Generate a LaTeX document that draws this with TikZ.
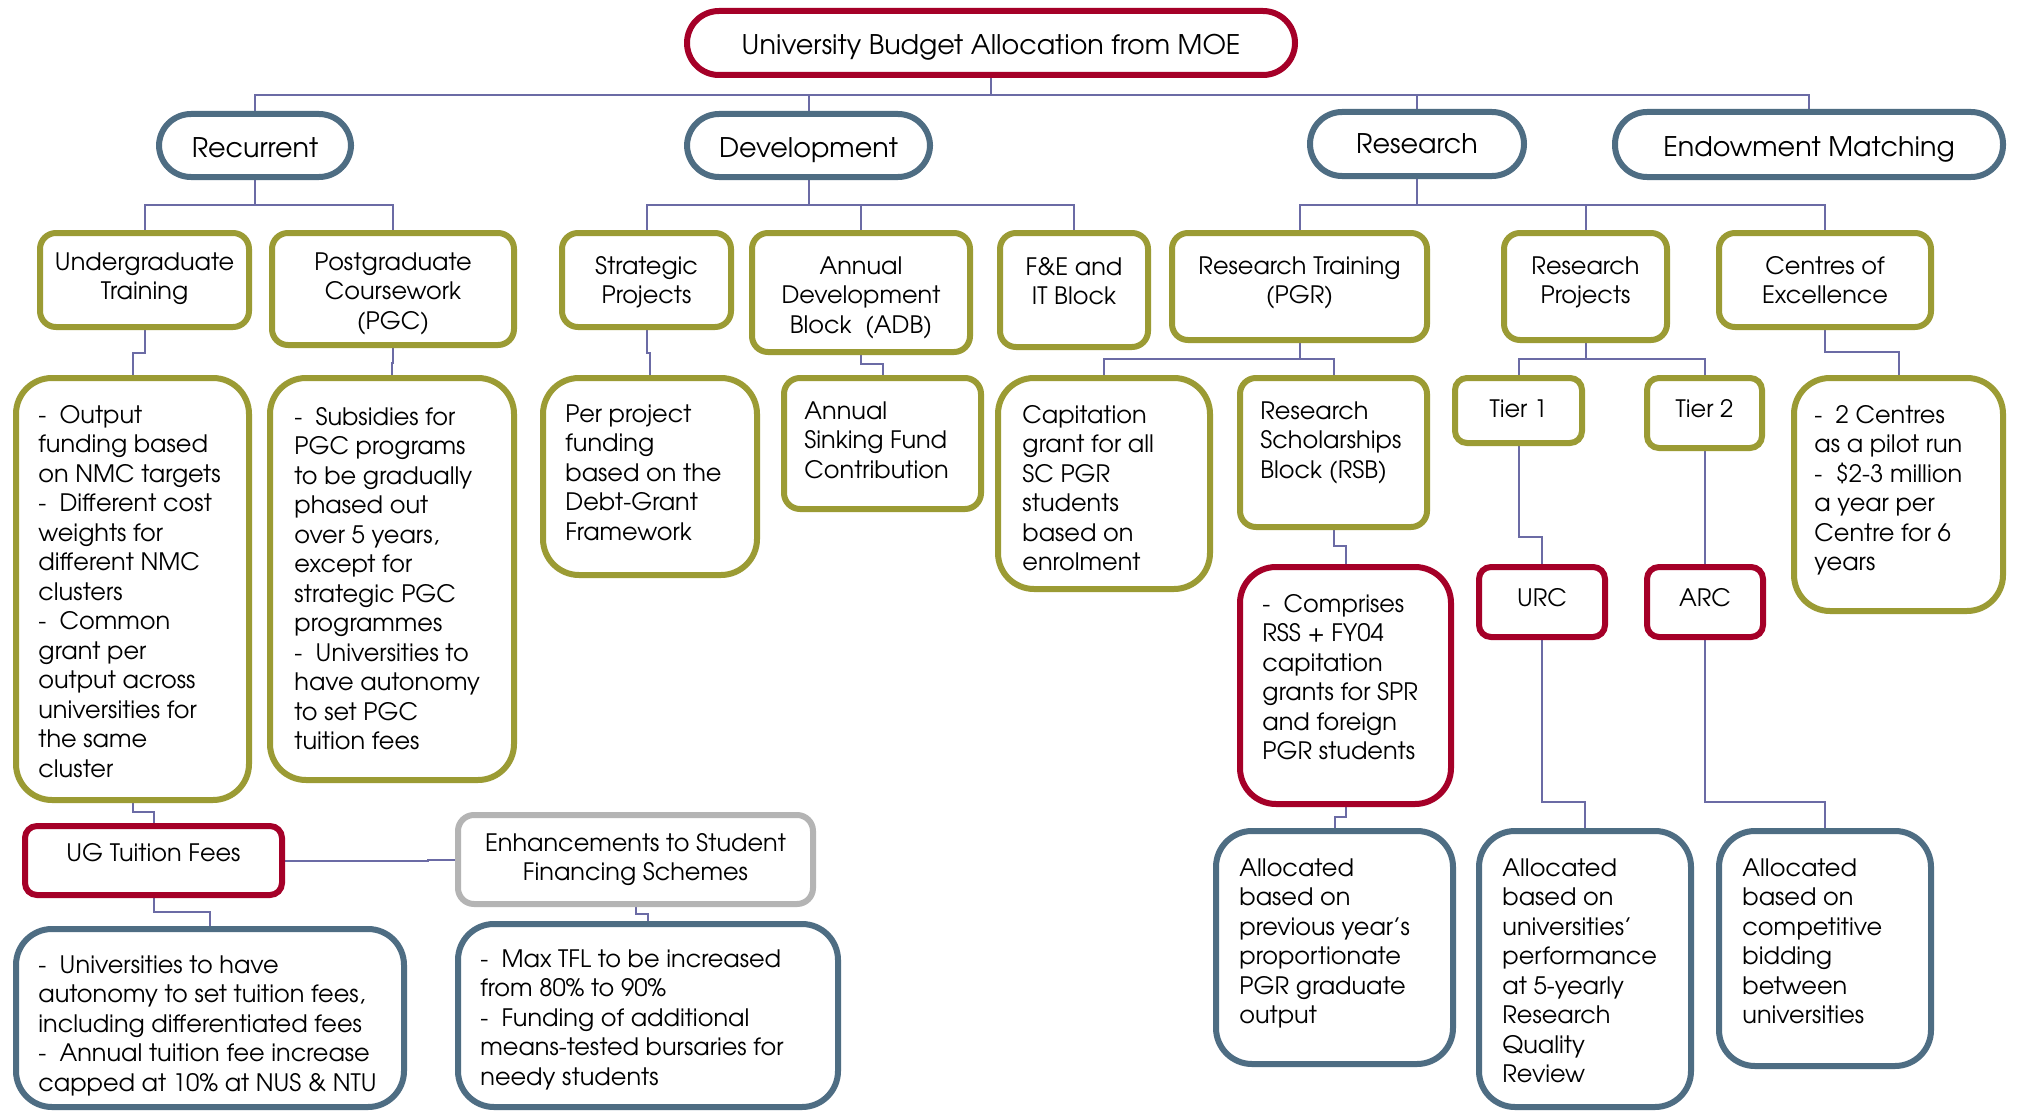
\documentclass[tikz,border=0pt]{standalone}
\usepackage{fontspec}
\setmainfont{TeX Gyre Adventor}
\usetikzlibrary{backgrounds,calc}
\definecolor{cred}{RGB}{165,0,40}
\definecolor{colive}{RGB}{155,155,52}
\definecolor{cslate}{RGB}{78,109,131}
\definecolor{cgray}{RGB}{180,180,180}
\definecolor{cline}{RGB}{107,107,165}
\newcommand\mkbox[7]{%
  \pgfmathsetmacro\mbcx{(#3+#5)/2}%
  \pgfmathsetmacro\mbcy{(#4+#6)/2}%
  \pgfmathsetmacro\mbww{(#5-#3-6)*0.5}%
  \pgfmathsetmacro\mbhh{(#6-#4-6)*0.5}%
  \node[#2, minimum width=\mbww pt, minimum height=\mbhh pt] (#1) at (\mbcx,\mbcy) {#7};}
\tikzset{
  bx/.style={draw, line width=3pt, fill=white, inner sep=0pt, align=center},
  redb/.style={bx, draw=cred},
  oliveb/.style={bx, draw=colive},
  slateb/.style={bx, draw=cslate},
  grayb/.style={bx, draw=cgray},
  pill/.style={rounded corners=16pt},
  rsm/.style={rounded corners=6pt},
  rmd/.style={rounded corners=8pt},
  rlg/.style={rounded corners=18pt},
  conn/.style={draw=cline, line width=1pt},
  bodyt/.style={anchor=north west, align=left, inner sep=0pt, font=\fontsize{12}{14.75}\selectfont},
  ttlt/.style={anchor=north, align=center, inner sep=0pt, font=\fontsize{12}{14.75}\selectfont},
  topt/.style={anchor=base, inner sep=0pt, font=\fontsize{13.5}{16}\selectfont},
}
\newcommand\dsh{-\hspace{0.55em}}
\begin{document}
\begin{tikzpicture}[x=0.5pt,y=-0.5pt]
\useasboundingbox (0,0) rectangle (2018,1113);
% top level
\mkbox{root}{redb,pill}{684}{8}{1298}{78}{}
\mkbox{rec}{slateb,pill}{156}{111}{354}{180}{}
\mkbox{dev}{slateb,pill}{684}{111}{933}{180}{}
\mkbox{res}{slateb,pill}{1307}{109}{1527}{179}{}
\mkbox{end}{slateb,pill}{1612}{109}{2006}{180}{}
% level 2
\mkbox{ug}{oliveb,rmd}{37}{230}{252}{330}{}
\mkbox{pgc}{oliveb,rmd}{269}{230}{517}{348}{}
\mkbox{sp}{oliveb,rmd}{559}{230}{734}{330}{}
\mkbox{adb}{oliveb,rmd}{749}{230}{973}{355}{}
\mkbox{fe}{oliveb,rmd}{997}{230}{1151}{350}{}
\mkbox{rt}{oliveb,rmd}{1169}{230}{1430}{343}{}
\mkbox{rp}{oliveb,rmd}{1501}{230}{1670}{343}{}
\mkbox{ce}{oliveb,rmd}{1716}{230}{1934}{330}{}
% level 3
\mkbox{out}{oliveb,rlg}{13}{375}{252}{803}{}
\mkbox{sub}{oliveb,rlg}{267}{375}{517}{783}{}
\mkbox{pp}{oliveb,rlg}{540}{375}{760}{578}{}
\mkbox{asf}{oliveb,rmd}{781}{375}{984}{512}{}
\mkbox{cap}{oliveb,rlg}{995}{375}{1213}{592}{}
\mkbox{rsb}{oliveb,rmd}{1237}{375}{1430}{530}{}
\mkbox{ta}{oliveb,rsm}{1452}{375}{1585}{446}{}
\mkbox{tb}{oliveb,rsm}{1644}{375}{1765}{451}{}
\mkbox{cen}{oliveb,rlg}{1791}{375}{2006}{614}{}
% level 4
\mkbox{com}{redb,rlg}{1237}{564}{1454}{807}{}
\mkbox{urc}{redb,rsm}{1476}{564}{1608}{640}{}
\mkbox{arc}{redb,rsm}{1644}{564}{1766}{640}{}
\mkbox{aa}{slateb,rlg}{1213}{828}{1456}{1067}{}
\mkbox{ab}{slateb,rlg}{1476}{828}{1694}{1110}{}
\mkbox{ac}{slateb,rlg}{1716}{828}{1934}{1069}{}
% bottom left
\mkbox{ugt}{redb,rsm}{22}{823}{285}{898}{}
\mkbox{enh}{grayb,rmd,font=\fontsize{12}{14.75}\selectfont}{455}{812}{816}{907}{Enhancements to Student\\Financing Schemes}
\mkbox{uni}{slateb,rlg}{13}{926}{407}{1110}{}
\mkbox{tfl}{slateb,rlg}{455}{921}{841}{1110}{}

% background and connectors
\begin{scope}[on background layer]
\fill[white] (0,0) rectangle (2018,1113);
\draw[conn] (root.south) -- (root.south |- 0,95);
\draw[conn] (rec.north) -- (rec.north |- 0,95) -- (end.north |- 0,95) -- (end.north);
\draw[conn] (dev.north) -- (dev.north |- 0,95);
\draw[conn] (res.north) -- (res.north |- 0,95);
\draw[conn] (rec.south) -- (rec.south |- 0,205);
\draw[conn] (ug.north) -- (ug.north |- 0,205) -- (pgc.north |- 0,205) -- (pgc.north);
\draw[conn] (dev.south) -- (dev.south |- 0,205);
\draw[conn] (sp.north) -- (sp.north |- 0,205) -- (fe.north |- 0,205) -- (fe.north);
\draw[conn] (adb.north) -- (adb.north |- 0,205);
\draw[conn] (res.south) -- (res.south |- 0,205);
\draw[conn] (rt.north) -- (rt.north |- 0,205) -- (ce.north |- 0,205) -- (ce.north);
\draw[conn] (rp.north) -- (rp.north |- 0,205);
\draw[conn] (ug.south) -- (ug.south |- 0,353) -| (out.north);
\draw[conn] (pgc.south) -- (pgc.south |- 0,363) -| (sub.north);
\draw[conn] (sp.south) -- (sp.south |- 0,353) -| (pp.north);
\draw[conn] (adb.south) -- (adb.south |- 0,364) -| (asf.north);
\draw[conn] (rt.south) -- (rt.south |- 0,359);
\draw[conn] (cap.north) -- (cap.north |- 0,359) -- (rsb.north |- 0,359) -- (rsb.north);
\draw[conn] (rp.south) -- (rp.south |- 0,359);
\draw[conn] (ta.north) -- (ta.north |- 0,359) -- (tb.north |- 0,359) -- (tb.north);
\draw[conn] (ce.south) -- (ce.south |- 0,352) -| (cen.north);
\draw[conn] (rsb.south) -- (rsb.south |- 0,546) -| (com.north);
\draw[conn] (ta.south) -- (ta.south |- 0,537) -| (urc.north);
\draw[conn] (tb.south) -- (tb.south |- 0,555) -| (arc.north);
\draw[conn] (com.south) -- (com.south |- 0,817) -| (aa.north);
\draw[conn] (urc.south) -- (urc.south |- 0,802) -| (ab.north);
\draw[conn] (arc.south) -- (arc.south |- 0,802) -| (ac.north);
\draw[conn] (out.south) -- (out.south |- 0,812) -| (ugt.north);
\draw[conn] (ugt.south) -- (ugt.south |- 0,912) -| (uni.north);
\draw[conn] (enh.south) -- (enh.south |- 0,914) -| (tfl.north);
\draw[conn] (ugt.east) -- ++(143,0) |- (enh.west);
\end{scope}

% top titles
\node[topt] (root-t) at ([shift={(0,12)}]root.center) {University Budget Allocation from MOE};
\node[topt] (rec-t) at ([shift={(0,12)}]rec.center) {Recurrent};
\node[topt] (dev-t) at ([shift={(0,12)}]dev.center) {Development};
\node[topt] (res-t) at ([shift={(0,10)}]res.center) {Research};
\node[topt] (end-t) at ([shift={(0,12)}]end.center) {Endowment Matching};

% level 2 titles
\node[ttlt] (ug-t) at ([shift={(0,22)}]ug.north) {Undergraduate\\Training};
\node[ttlt] (pgc-t) at ([shift={(0,22)}]pgc.north) {Postgraduate\\Coursework\\(PGC)};
\node[ttlt] (sp-t) at ([shift={(0,26)}]sp.north) {Strategic\\Projects};
\node[ttlt] (adb-t) at ([shift={(0,26)}]adb.north) {Annual\\Development\\Block\ \ (ADB)};
\node[ttlt] (fe-t) at ([shift={(0,27)}]fe.north) {F\&E and\\IT Block};
\node[ttlt] (rt-t) at ([shift={(0,26)}]rt.north) {Research Training\\(PGR)};
\node[ttlt] (rp-t) at ([shift={(0,26)}]rp.north) {Research\\Projects};
\node[ttlt] (ce-t) at ([shift={(0,26)}]ce.north) {Centres of\\Excellence};
\node[ttlt] (ta-t) at ([shift={(0,24)}]ta.north) {Tier 1};
\node[ttlt] (tb-t) at ([shift={(0,24)}]tb.north) {Tier 2};
\node[ttlt] (urc-t) at ([shift={(0,24)}]urc.north) {URC};
\node[ttlt] (arc-t) at ([shift={(0,24)}]arc.north) {ARC};
\node[ttlt] (ugt-t) at ([shift={(0,20)}]ugt.north) {UG Tuition Fees};

% body texts
\node[bodyt] (out-t) at ([shift={(25,30)}]out.north west) {\dsh Output\\funding based\\on NMC targets\\\dsh Different cost\\weights for\\different NMC\\clusters\\\dsh Common\\grant per\\output across\\universities for\\the same\\cluster};
\node[bodyt] (sub-t) at ([shift={(27,32)}]sub.north west) {\dsh Subsidies for\\PGC programs\\to be gradually\\phased out\\over 5 years,\\except for\\strategic PGC\\programmes\\\dsh Universities to\\have autonomy\\to set PGC\\tuition fees};
\node[bodyt] (pp-t) at ([shift={(25,29)}]pp.north west) {Per project\\funding\\based on the\\Debt-Grant\\Framework};
\node[bodyt] (asf-t) at ([shift={(23,26)}]asf.north west) {Annual\\Sinking Fund\\Contribution};
\node[bodyt] (cap-t) at ([shift={(27,30)}]cap.north west) {Capitation\\grant for all\\SC PGR\\students\\based on\\enrolment};
\node[bodyt] (rsb-t) at ([shift={(23,26)}]rsb.north west) {Research\\Scholarships\\Block (RSB)};
\node[bodyt] (cen-t) at ([shift={(23,30)}]cen.north west) {\dsh 2 Centres\\as a pilot run\\\dsh \$2-3 million\\a year per\\Centre for 6\\years};
\node[bodyt] (com-t) at ([shift={(25,30)}]com.north west) {\dsh Comprises\\RSS + FY04\\capitation\\grants for SPR\\and foreign\\PGR students};
\node[bodyt] (aa-t) at ([shift={(26,30)}]aa.north west) {Allocated\\based on\\previous year's\\proportionate\\PGR graduate\\output};
\node[bodyt] (ab-t) at ([shift={(26,30)}]ab.north west) {Allocated\\based on\\universities'\\performance\\at 5-yearly\\Research\\Quality\\Review};
\node[bodyt] (ac-t) at ([shift={(26,30)}]ac.north west) {Allocated\\based on\\competitive\\bidding\\between\\universities};
\node[bodyt] (uni-t) at ([shift={(25,29)}]uni.north west) {\dsh Universities to have\\autonomy to set tuition fees,\\including differentiated fees\\\dsh Annual tuition fee increase\\capped at 10\% at NUS \& NTU};
\node[bodyt] (tfl-t) at ([shift={(25,28)}]tfl.north west) {\dsh Max TFL to be increased\\from 80\% to 90\%\\\dsh Funding of additional\\means-tested bursaries for\\needy students};
\end{tikzpicture}
\end{document}
